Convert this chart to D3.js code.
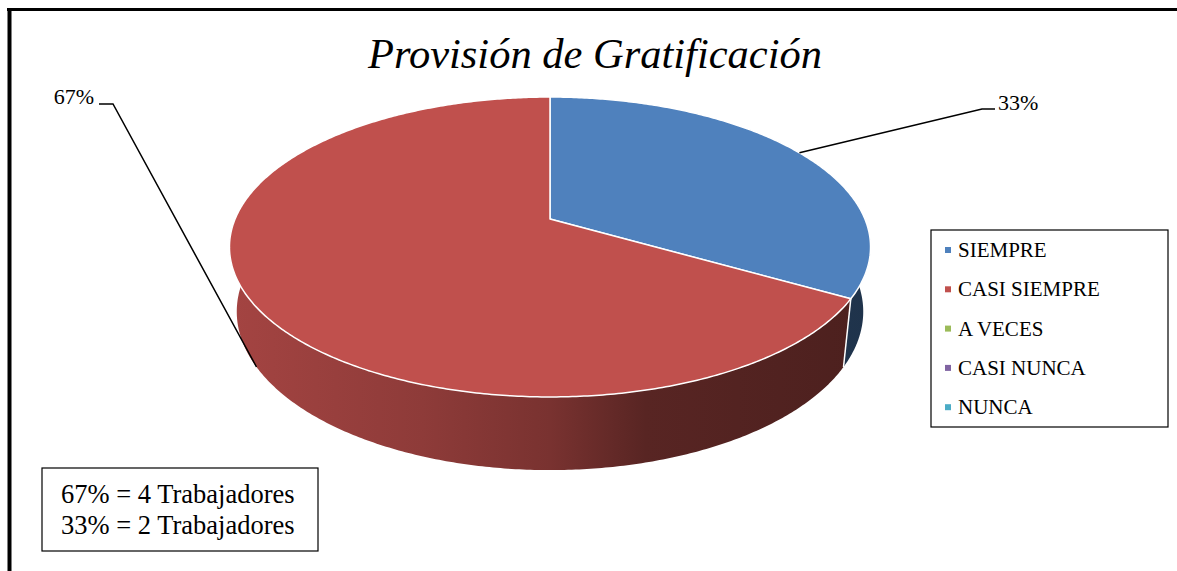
<!DOCTYPE html>
<html>
<head>
  <meta charset="utf-8">
  <script src="https://d3js.org/d3.v7.min.js"></script>
  <style>
    body { margin: 0; background: #fff; }
    svg { display: block; }
  </style>
</head>
<body>
  <svg class="chart"></svg>
  <script>
    // data
    const CATEGORIES = ["SIEMPRE", "CASI SIEMPRE", "A VECES", "CASI NUNCA", "NUNCA"];
    const VALUES     = [2, 4, 0, 0, 0];
    const COLORS     = ["#4F81BD", "#C0504D", "#9BBB59", "#8064A2", "#4BACC6"];
    const NOTE_LINES = ["67% = 4 Trabajadores", "33% = 2 Trabajadores"];
    const TITLE      = "Provisión de Gratificación";

    const W = 1177, H = 571;
    const FONT = "Liberation Serif";

    // 3d projection of the pie (perspective, tilted)
    const CX = 550, CY = 219;
    const F = 1498, DIST = 4.757;
    const SIN_T = 0.4596, COS_T = 0.888;
    const THICK = 0.233;

    function project(angle, r, y) {
      const x = r * Math.sin(angle);
      const z = -r * Math.cos(angle);
      const v = z * SIN_T - y * COS_T;
      const d = DIST - z * COS_T - y * SIN_T;
      return [CX + F * x / d, CY + F * v / d];
    }

    function arcPoints(a0, a1, y) {
      const n = Math.max(2, Math.ceil(Math.abs(a1 - a0) / 0.01));
      return d3.range(n + 1).map(i => project(a0 + (a1 - a0) * i / n, 1, y));
    }

    const svg = d3.select(".chart").attr("width", W).attr("height", H);
    const defs = svg.append("defs");

    // frame
    svg.append("line").attr("x1", 7).attr("x2", W).attr("y1", 9.5).attr("y2", 9.5)
      .attr("stroke", "#000").attr("stroke-width", 3);
    svg.append("line").attr("x1", 9.5).attr("x2", 9.5).attr("y1", 8).attr("y2", H)
      .attr("stroke", "#000").attr("stroke-width", 4);

    // title
    svg.append("text")
      .attr("x", 595).attr("y", 68)
      .attr("text-anchor", "middle")
      .attr("font-family", FONT)
      .attr("font-size", 42.5).attr("font-style", "italic")
      .text(TITLE);

    const pieData = d3.pie().sort(null).value(d => d.value)(
      CATEGORIES.map((c, i) => ({ name: c, value: VALUES[i], color: COLORS[i] }))
    ).filter(d => d.data.value > 0);
    const total = d3.sum(VALUES);

    // side walls (front half only)
    const FRONT0 = Math.PI / 2, FRONT1 = Math.PI * 3 / 2;
    const wallStops = [[0, 0.45], [0.3, 0.85], [0.5, 1.3], [0.65, 2.2], [1, 2.6]];
    const line = d3.line();

    pieData.forEach((d, i) => {
      const a0 = Math.max(d.startAngle, FRONT0);
      const a1 = Math.min(d.endAngle, FRONT1);
      if (a1 <= a0) return;
      const grad = defs.append("linearGradient")
        .attr("id", "wall" + i)
        .attr("gradientUnits", "userSpaceOnUse")
        .attr("x1", 230).attr("x2", 870).attr("y1", 0).attr("y2", 0);
      wallStops.forEach(s => {
        grad.append("stop").attr("offset", s[0])
          .attr("stop-color", d3.color(d.data.color).darker(s[1]).formatHex());
      });
      const pts = arcPoints(a0, a1, 0).concat(arcPoints(a1, a0, -THICK));
      svg.append("path")
        .attr("d", line(pts) + "Z")
        .attr("fill", `url(#wall${i})`);
    });

    // white seams on the wall where slices meet
    pieData.forEach(d => {
      const a = d.startAngle;
      if (a > FRONT0 && a < FRONT1) {
        svg.append("path")
          .attr("d", line([project(a, 1, 0), project(a, 1, -THICK)]))
          .attr("stroke", "#fff").attr("stroke-width", 1.5).attr("fill", "none");
      }
    });

    // top face
    pieData.forEach(d => {
      const pts = [project(0, 0, 0)].concat(arcPoints(d.startAngle, d.endAngle, 0));
      svg.append("path")
        .attr("d", line(pts) + "Z")
        .attr("fill", d.data.color)
        .attr("stroke", "#fff").attr("stroke-width", 1.5)
        .attr("stroke-linejoin", "round");
    });

    // data labels with leader lines
    const labelPos = [
      { x: 998, y: 110, anchor: "start", elbow: [[995, 109], [982, 109]], y0: 0 },
      { x: 94, y: 104, anchor: "end", elbow: [[99, 104], [113, 104]], y0: -THICK }
    ];
    pieData.forEach((d, i) => {
      const p = labelPos[i];
      const mid = (d.startAngle + d.endAngle) / 2;
      const pts = p.elbow.concat([project(mid, 1, p.y0)]);
      svg.append("path")
        .attr("d", line(pts))
        .attr("fill", "none").attr("stroke", "#000").attr("stroke-width", 1.5);
      svg.append("text")
        .attr("x", p.x).attr("y", p.y)
        .attr("text-anchor", p.anchor)
        .attr("font-family", FONT)
        .attr("font-size", 22)
        .text(Math.round(d.value / total * 100) + "%");
    });

    // legend
    const legend = svg.append("g").attr("transform", "translate(931,230)");
    legend.append("rect")
      .attr("width", 237).attr("height", 197)
      .attr("fill", "#fff").attr("stroke", "#000").attr("stroke-width", 1.2);
    const items = legend.selectAll(".legend").data(CATEGORIES).enter()
      .append("g").attr("class", "legend")
      .attr("transform", (d, i) => `translate(0, ${20 + i * 39.3})`);
    items.append("rect")
      .attr("x", 14).attr("y", -3).attr("width", 6).attr("height", 6)
      .attr("fill", (d, i) => COLORS[i]);
    items.append("text")
      .attr("x", 27).attr("y", 7)
      .attr("font-family", FONT)
      .attr("font-size", 21)
      .text(d => d);

    // note box
    svg.append("rect")
      .attr("x", 42).attr("y", 468).attr("width", 276).attr("height", 83)
      .attr("fill", "#fff").attr("stroke", "#000").attr("stroke-width", 1.2);
    svg.selectAll(".note").data(NOTE_LINES).enter()
      .append("text").attr("class", "note")
      .attr("x", 61).attr("y", (d, i) => 503 + i * 31)
      .attr("font-family", FONT)
      .attr("font-size", 26.5)
      .text(d => d);
  </script>
</body>
</html>
